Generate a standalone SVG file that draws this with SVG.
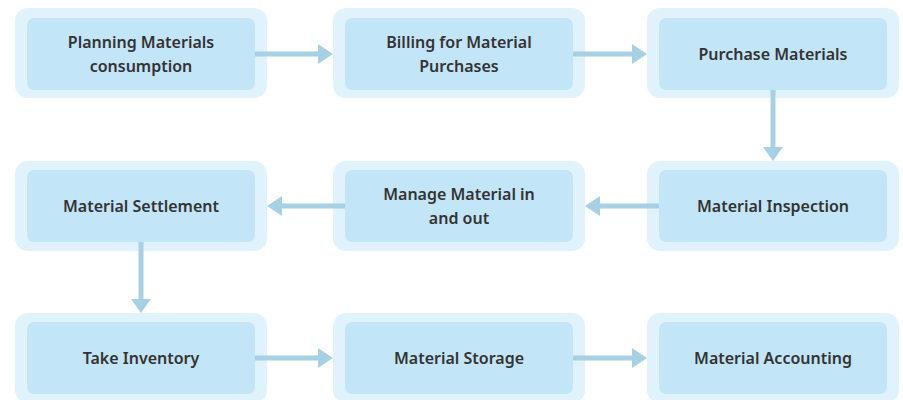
<svg xmlns="http://www.w3.org/2000/svg" width="903" height="400" viewBox="0 0 903 400">
<style>
.outer{fill:#e0f2fc}
.inner{fill:#c3e5f8}
.t{font-family:"Noto Sans","Liberation Sans",sans-serif;font-weight:600;font-size:16px;fill:#333;text-anchor:middle}
.c{stroke:#a8d0e4;stroke-width:5;fill:none}
.h{fill:#a8d0e4}
</style>
<rect width="903" height="400" fill="#fff"/>
<g id="n1"><rect class="outer" x="15" y="8" width="252" height="90" rx="13"/><rect class="inner" x="27" y="18" width="228" height="72" rx="7"/><text class="t" x="141" y="48">Planning Materials</text><text class="t" x="141" y="72">consumption</text></g>
<g id="n2"><rect class="outer" x="333" y="8" width="252" height="90" rx="13"/><rect class="inner" x="345" y="18" width="228" height="72" rx="7"/><text class="t" x="459" y="48">Billing for Material</text><text class="t" x="459" y="72">Purchases</text></g>
<g id="n3"><rect class="outer" x="647" y="8" width="252" height="90" rx="13"/><rect class="inner" x="659" y="18" width="228" height="72" rx="7"/><text class="t" x="773" y="60">Purchase Materials</text></g>
<g id="n4"><rect class="outer" x="647" y="161" width="252" height="90" rx="13"/><rect class="inner" x="659" y="170" width="228" height="72" rx="7"/><text class="t" x="773" y="212">Material Inspection</text></g>
<g id="n5"><rect class="outer" x="333" y="161" width="252" height="90" rx="13"/><rect class="inner" x="345" y="170" width="228" height="72" rx="7"/><text class="t" x="459" y="200">Manage Material in</text><text class="t" x="459" y="224">and out</text></g>
<g id="n6"><rect class="outer" x="15" y="161" width="252" height="90" rx="13"/><rect class="inner" x="27" y="170" width="228" height="72" rx="7"/><text class="t" x="141" y="212">Material Settlement</text></g>
<g id="n7"><rect class="outer" x="15" y="313" width="252" height="90" rx="13"/><rect class="inner" x="27" y="322" width="228" height="72" rx="7"/><text class="t" x="141" y="364">Take Inventory</text></g>
<g id="n8"><rect class="outer" x="333" y="313" width="252" height="90" rx="13"/><rect class="inner" x="345" y="322" width="228" height="72" rx="7"/><text class="t" x="459" y="364">Material Storage</text></g>
<g id="n9"><rect class="outer" x="647" y="313" width="252" height="90" rx="13"/><rect class="inner" x="659" y="322" width="228" height="72" rx="7"/><text class="t" x="773" y="364">Material Accounting</text></g>
<g id="connectors">
<line class="c" x1="255" y1="54" x2="319" y2="54"/><polygon class="h" points="318,44 333,54 318,64"/>
<line class="c" x1="573" y1="54" x2="633" y2="54"/><polygon class="h" points="632,44 647,54 632,64"/>
<line class="c" x1="773" y1="90" x2="773" y2="148"/><polygon class="h" points="763,147 773,161 783,147"/>
<line class="c" x1="659" y1="206" x2="599" y2="206"/><polygon class="h" points="600,196 585,206 600,216"/>
<line class="c" x1="345" y1="206" x2="281" y2="206"/><polygon class="h" points="282,196 267,206 282,216"/>
<line class="c" x1="141" y1="242" x2="141" y2="300"/><polygon class="h" points="131,299 141,313 151,299"/>
<line class="c" x1="255" y1="358" x2="319" y2="358"/><polygon class="h" points="318,348 333,358 318,368"/>
<line class="c" x1="573" y1="358" x2="633" y2="358"/><polygon class="h" points="632,348 647,358 632,368"/>
</g>
</svg>
